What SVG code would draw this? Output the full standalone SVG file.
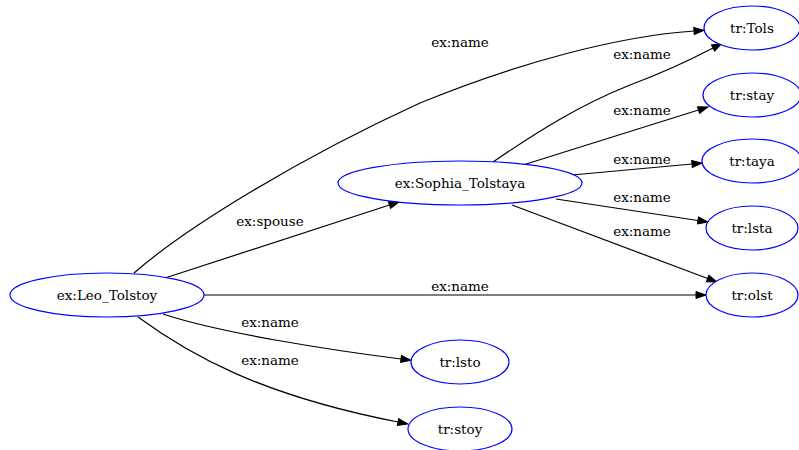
<svg xmlns="http://www.w3.org/2000/svg" width="799" height="450" viewBox="0 0 799 450">
<style>
.node ellipse{fill:#fff;stroke:#0000ff;stroke-width:1.2}
text{font-family:'DejaVu Serif',serif;font-size:13.5px;fill:#000;text-anchor:middle}
.edges path{fill:none;stroke:#000;stroke-width:1.2;marker-end:url(#arr)}
</style>
<defs>
<marker id="arr" markerUnits="userSpaceOnUse" markerWidth="11" markerHeight="8" refX="0" refY="3.5" orient="auto" overflow="visible">
<path d="M0,0 L10,3.5 L0,7 z" fill="#000" stroke="#000" stroke-width="1"/>
</marker>
</defs>
<rect width="799" height="450" fill="#fff"/>
<g class="edges" id="edges">
<path d="M134,273 C188,226 300,158 420,103 C520,62 620,36 694,31"/>
<path d="M493,162 C540,130 580,105 630,85 C665,72 690,60 713,48"/>
<path d="M523,165 L698.5,110"/>
<path d="M572,175 L692,164"/>
<path d="M556,199 L698,220.5"/>
<path d="M512,205 L707.6,278.5"/>
<path d="M204,295 L696,295"/>
<path d="M165,278 L389.5,205"/>
<path d="M163,314 C220,333 330,350 401,359"/>
<path d="M138,317 C190,355 260,395 398,422"/>
<text x="460" y="47">ex:name</text>
<text x="642" y="59">ex:name</text>
<text x="642" y="115">ex:name</text>
<text x="642" y="164">ex:name</text>
<text x="642" y="202">ex:name</text>
<text x="642" y="236">ex:name</text>
<text x="460" y="291">ex:name</text>
<text x="270" y="226">ex:spouse</text>
<text x="270" y="327">ex:name</text>
<text x="270" y="365">ex:name</text>
</g>
<g class="node" id="leo"><ellipse cx="107" cy="295" rx="97" ry="22"/><text x="107" y="300">ex:Leo_Tolstoy</text></g>
<g class="node" id="sophia"><ellipse cx="460" cy="183" rx="122" ry="22"/><text x="460" y="188">ex:Sophia_Tolstaya</text></g>
<g class="node" id="tols"><ellipse cx="752" cy="28" rx="48" ry="22"/><text x="752" y="33">tr:Tols</text></g>
<g class="node" id="stay"><ellipse cx="752" cy="95" rx="49" ry="22"/><text x="752" y="100">tr:stay</text></g>
<g class="node" id="taya"><ellipse cx="752" cy="161" rx="50" ry="22"/><text x="752" y="166">tr:taya</text></g>
<g class="node" id="lsta"><ellipse cx="752" cy="228" rx="46" ry="22"/><text x="752" y="233">tr:lsta</text></g>
<g class="node" id="olst"><ellipse cx="752" cy="295" rx="46" ry="22"/><text x="752" y="300">tr:olst</text></g>
<g class="node" id="lsto"><ellipse cx="460" cy="362" rx="49" ry="22"/><text x="460" y="367">tr:lsto</text></g>
<g class="node" id="stoy"><ellipse cx="460" cy="429" rx="52" ry="22"/><text x="460" y="434">tr:stoy</text></g>
</svg>
